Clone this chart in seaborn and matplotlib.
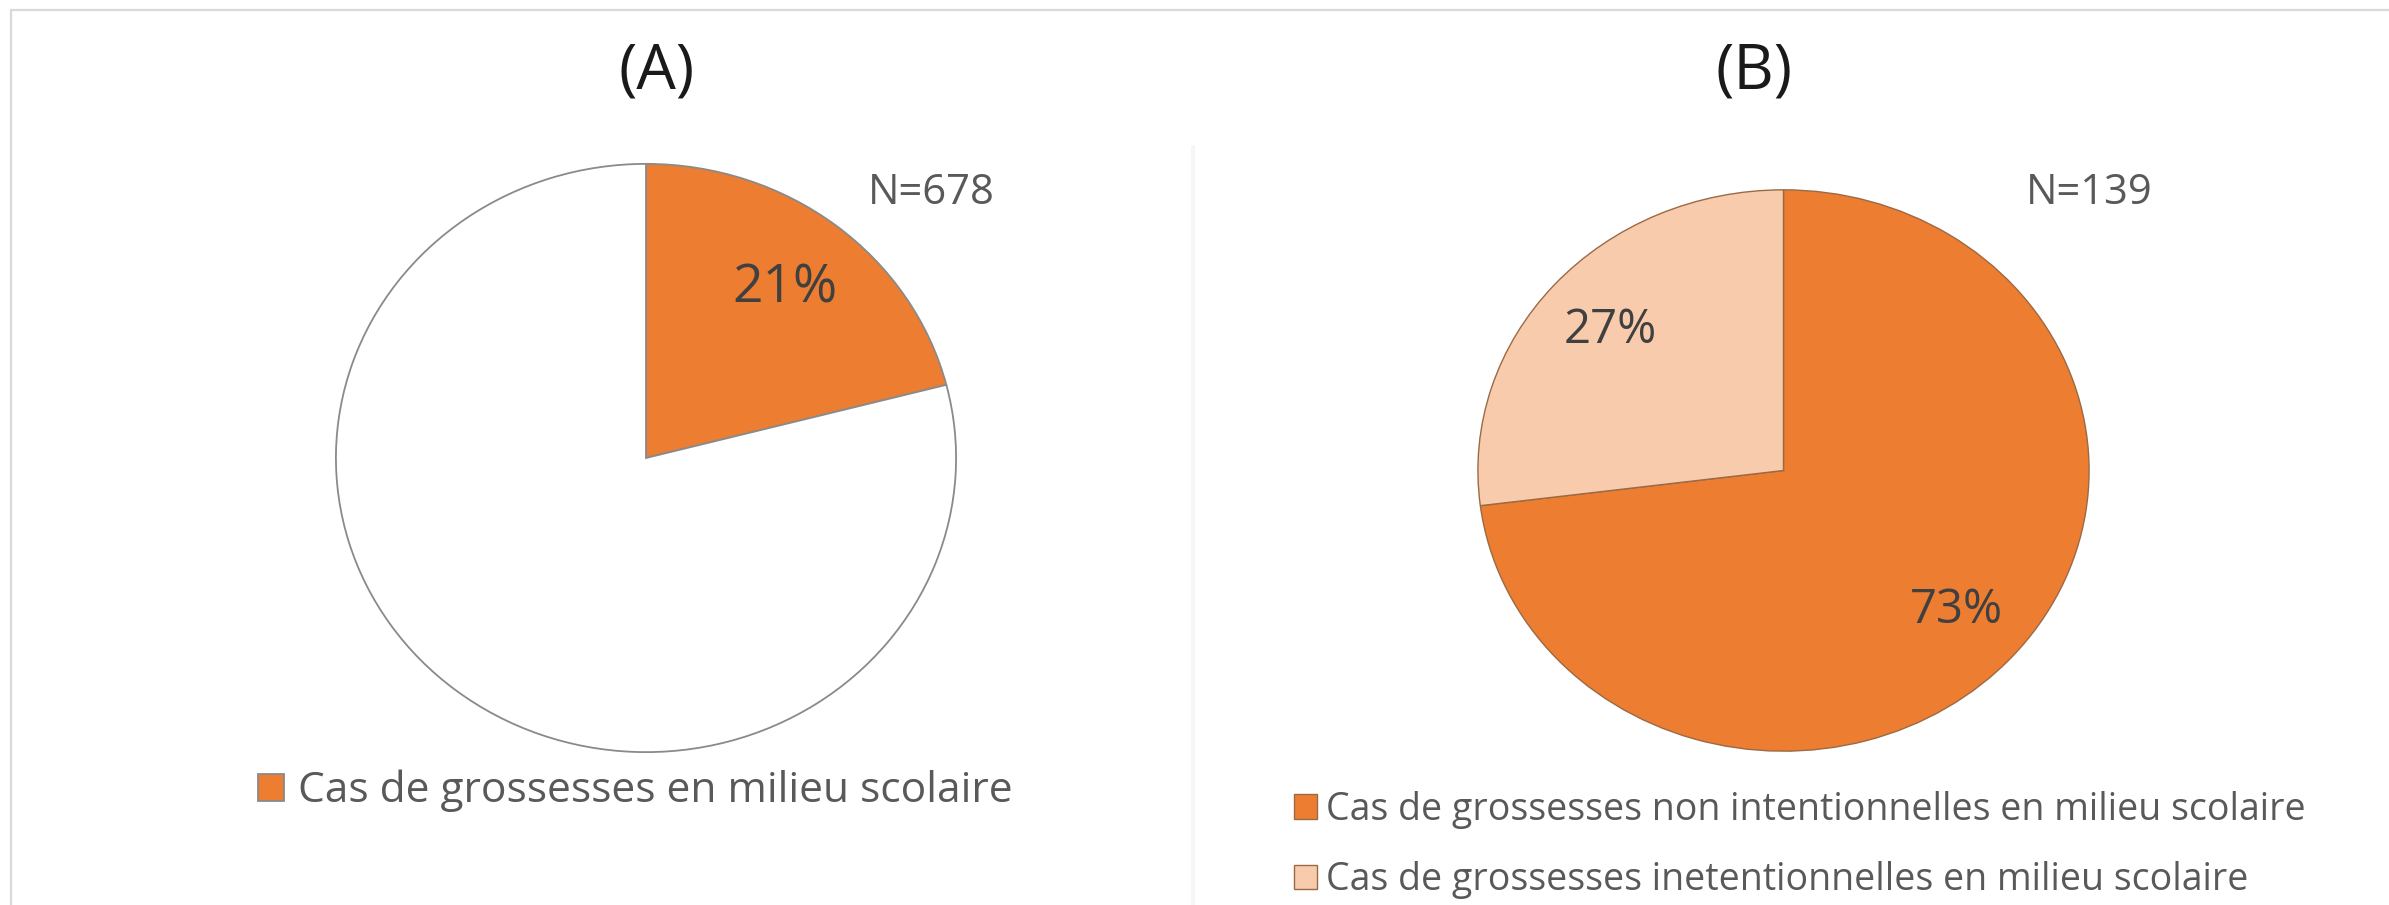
import matplotlib
matplotlib.use('Agg')
import matplotlib.pyplot as plt
from matplotlib.lines import Line2D
import seaborn as sns

# Data
titles = ['(A)', '(B)']
labels_a = ['Cas de grossesses en milieu scolaire', 'Autres']
values_a = [21, 79]
n_a = 678
labels_b = ['Cas de grossesses non intentionnelles en milieu scolaire',
            'Cas de grossesses inetentionnelles en milieu scolaire']
values_b = [73, 27]
n_b = 139

sns.set_theme(style='white')
plt.rcParams['font.family'] = ['Open Sans', 'DejaVu Sans']

orange = '#ED7D31'
peach = '#F8CBAD'
W, H = 2389, 905

fig = plt.figure(figsize=(W / 100, H / 100), dpi=100)
fig.patch.set_facecolor('white')


def box(left, right, top, bottom):
    return [left / W, 1 - bottom / H, (right - left) / W, (bottom - top) / H]


# Pie A
ax_a = fig.add_axes(box(335, 957, 163, 753))
wedges_a, _, autotexts_a = ax_a.pie(
    values_a, colors=[orange, 'white'], startangle=90, counterclock=False,
    autopct='%1.0f%%', pctdistance=0.73,
    wedgeprops=dict(edgecolor='#8a8a8a', linewidth=1.3),
    textprops=dict(fontsize=38.5, color='#404040'))
autotexts_a[1].set_visible(False)
ax_a.set_aspect('auto')
ax_a.set_xlim(-1.003, 1.003)
ax_a.set_ylim(-1.003, 1.003)
ax_a.text(0.92, 0.90, f'N={n_a}', fontsize=30, color='#595959',
          ha='center', va='center')

# Pie B
ax_b = fig.add_axes(box(1477, 2090, 189, 752))
wedges_b, _, autotexts_b = ax_b.pie(
    values_b, colors=[orange, peach], startangle=90, counterclock=False,
    autopct='%1.0f%%', pctdistance=0.755,
    wedgeprops=dict(edgecolor='#9a6a45', linewidth=1.0),
    textprops=dict(fontsize=34, color='#404040'))
ax_b.set_aspect('auto')
ax_b.set_xlim(-1.003, 1.003)
ax_b.set_ylim(-1.003, 1.003)
ax_b.text(1.0, 0.99, f'N={n_b}', fontsize=30, color='#595959',
          ha='center', va='center')

# Titles
fig.text(657 / W, 1 - 72 / H, titles[0], fontsize=45, color='#1a1a1a',
         ha='center', va='center')
fig.text(1754 / W, 1 - 72 / H, titles[1], fontsize=45, color='#1a1a1a',
         ha='center', va='center')

# Legends
fig.legend([wedges_a[0]], [labels_a[0]], loc='center left',
           bbox_to_anchor=(258 / W, 1 - 791 / H), frameon=False,
           fontsize=30.6, handlelength=0.62, handleheight=0.62,
           handletextpad=0.33, borderpad=0, borderaxespad=0,
           labelcolor='#595959')
fig.legend(wedges_b, labels_b, loc='center left',
           bbox_to_anchor=(1294 / W, 1 - 845 / H), frameon=False,
           fontsize=27, handlelength=0.62, handleheight=0.62,
           handletextpad=0.24, borderpad=0, borderaxespad=0,
           labelspacing=0.87, labelcolor='#595959')

# Thin frame lines of the original image
fig.add_artist(Line2D([11 / W, 1], [1 - 10 / H, 1 - 10 / H], color='#d9d9d9',
                      linewidth=1.6, transform=fig.transFigure))
fig.add_artist(Line2D([11 / W, 11 / W], [0, 1 - 10 / H], color='#d9d9d9',
                      linewidth=1.6, transform=fig.transFigure))
fig.add_artist(Line2D([1193 / W, 1193 / W], [0, 1 - 147 / H], color='#f6f6f6',
                      linewidth=3, transform=fig.transFigure))

fig.savefig('out.png', dpi=100, facecolor='white')
